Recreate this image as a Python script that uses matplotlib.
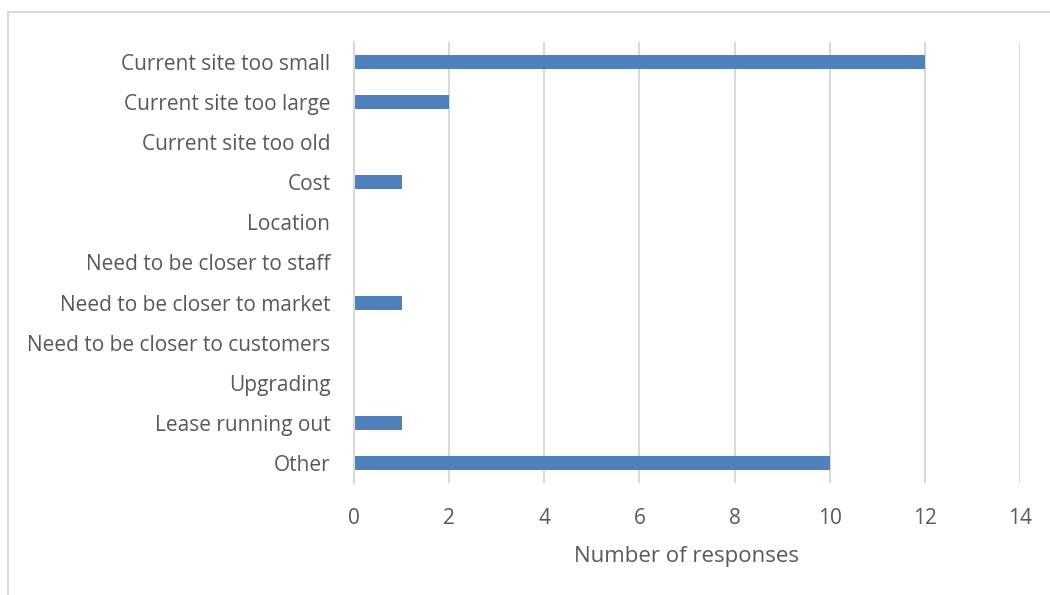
import matplotlib.pyplot as plt
from matplotlib.patches import Rectangle

# reasons for moving site
reasons = ['Current site too small', 'Current site too large', 'Current site too old',
           'Cost', 'Location', 'Need to be closer to staff', 'Need to be closer to market',
           'Need to be closer to customers', 'Upgrading', 'Lease running out', 'Other']
counts = [12, 2, 0, 1, 0, 0, 1, 0, 0, 1, 10]
xticks = [0, 2, 4, 6, 8, 10, 12, 14]

plt.rcParams['font.family'] = ['Open Sans', 'DejaVu Sans']
txt = '#595959'
grid = '#d9d9d9'

fig = plt.figure(figsize=(10.5, 5.95), dpi=100)
ax = fig.add_axes([354/1050, 1-483/595, 666/1050, 441/595])

# outer chart border like the Excel frame
fig.patches.append(Rectangle((8/1050, -0.05), 1.1, 1.05-12/595, transform=fig.transFigure,
                             fill=False, edgecolor='#d9d9d9', linewidth=1.5))

ypos = list(range(len(reasons)))
ax.barh(ypos, counts, height=0.35, color='#4f81bd', zorder=3)

ax.set_ylim(len(reasons)-0.5, -0.5)
ax.set_yticks(ypos)
ax.set_yticklabels(reasons)
ax.set_xlim(0, 14)
ax.set_xticks(xticks)

ax.grid(axis='x', color=grid, linewidth=1.5, zorder=0)
for s in ['top', 'right', 'bottom']:
    ax.spines[s].set_visible(False)
ax.spines['left'].set_color(grid)
ax.spines['left'].set_linewidth(1.5)
ax.spines['left'].set_zorder(4)

ax.tick_params(axis='both', length=0, labelsize=15, labelcolor=txt)
ax.tick_params(axis='y', pad=17)
ax.tick_params(axis='x', pad=18)
ax.set_xlabel('Number of responses', fontsize=16, color=txt, labelpad=12)

fig.savefig('out.png', dpi=100)
